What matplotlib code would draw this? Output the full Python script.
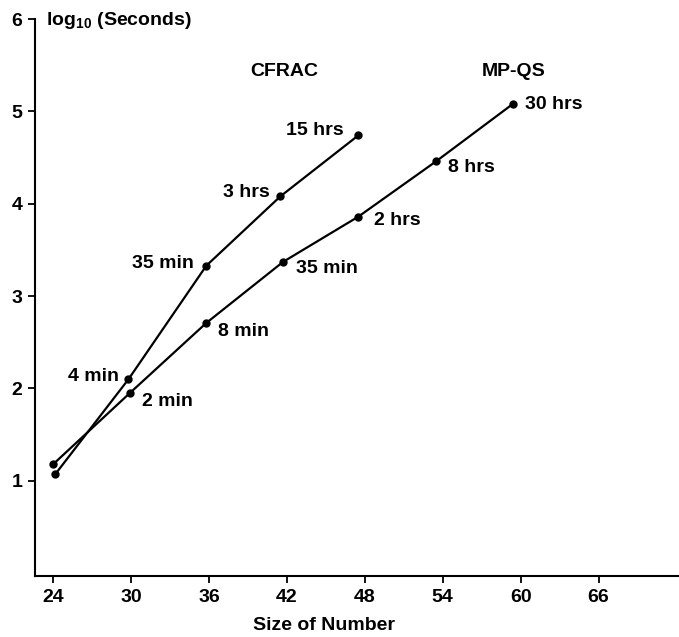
import matplotlib
matplotlib.use("Agg")
import matplotlib.pyplot as plt

plt.rcParams['font.family'] = ['Liberation Sans', 'DejaVu Sans']
plt.rcParams['font.weight'] = 'bold'
plt.rcParams['mathtext.fontset'] = 'custom'
plt.rcParams['mathtext.rm'] = 'Liberation Sans:bold'
plt.rcParams['mathtext.bf'] = 'Liberation Sans:bold'

# CFRAC timings (size of number vs log10 seconds)
cfrac_size = [24.15, 29.8, 35.8, 41.5, 47.5]
cfrac_log = [1.07, 2.10, 3.33, 4.08, 4.74]
cfrac_labels = ["", "4 min", "35 min", "3 hrs", "15 hrs"]

# MP-QS timings
mpqs_size = [24.0, 29.9, 35.8, 41.7, 47.5, 53.5, 59.4]
mpqs_log = [1.18, 1.95, 2.71, 3.37, 3.86, 4.46, 5.08]
mpqs_labels = ["", "2 min", "8 min", "35 min", "2 hrs", "8 hrs", "30 hrs"]

xticks = [24, 30, 36, 42, 48, 54, 60, 66]
yticks = [1, 2, 3, 4, 5, 6]

FS = 14

fig = plt.figure(figsize=(6.79, 6.37), dpi=100)
ax = fig.add_axes([35 / 679, 61 / 637, 1 - 35 / 679, 557 / 637])

ax.plot(cfrac_size, cfrac_log, color="black", lw=1.6, marker="o", ms=5)
ax.plot(mpqs_size, mpqs_log, color="black", lw=1.6, marker="o", ms=5)

# label offsets in pixels from each point
cfrac_off = [(0, 0), (-9, 3), (-13, 2), (-11, 4), (-15, 5)]
mpqs_off = [(0, 0), (12, -8), (12, -9), (13, -7), (16, -4), (12, -6), (12, -1)]
for x, y, s, (dx, dy) in zip(cfrac_size, cfrac_log, cfrac_labels, cfrac_off):
    if s:
        ax.annotate(s, (x, y), xytext=(dx, dy), textcoords="offset pixels",
                    ha="right", va="center", fontsize=FS, fontweight="bold")
for x, y, s, (dx, dy) in zip(mpqs_size, mpqs_log, mpqs_labels, mpqs_off):
    if s:
        ax.annotate(s, (x, y), xytext=(dx, dy), textcoords="offset pixels",
                    ha="left", va="center", fontsize=FS, fontweight="bold")

ax.text(41.8, 5.43, "CFRAC", ha="center", va="center", fontsize=FS, fontweight="bold")
ax.text(59.5, 5.43, "MP-QS", ha="center", va="center", fontsize=FS, fontweight="bold")
ax.text(23.45, 5.98, r"log$_{\mathrm{10}}$ (Seconds)", ha="left", va="center",
        fontsize=FS, fontweight="bold")

ax.set_xlim(22.6, 72.2)
ax.set_ylim(-0.03, 6)
ax.set_xticks(xticks)
ax.set_yticks(yticks)
ax.tick_params(direction="out", length=5, width=1.3, labelsize=FS, pad=4)
for lab in ax.get_xticklabels() + ax.get_yticklabels():
    lab.set_fontweight("bold")
ax.spines["top"].set_visible(False)
ax.spines["right"].set_visible(False)
ax.spines["left"].set_linewidth(1.5)
ax.spines["bottom"].set_linewidth(1.5)
ax.patch.set_visible(False)

fig.text(253 / 679, 1 - 626 / 637, "Size of Number", ha="left", va="center",
         fontsize=FS, fontweight="bold")

fig.savefig("out.png", dpi=100)
